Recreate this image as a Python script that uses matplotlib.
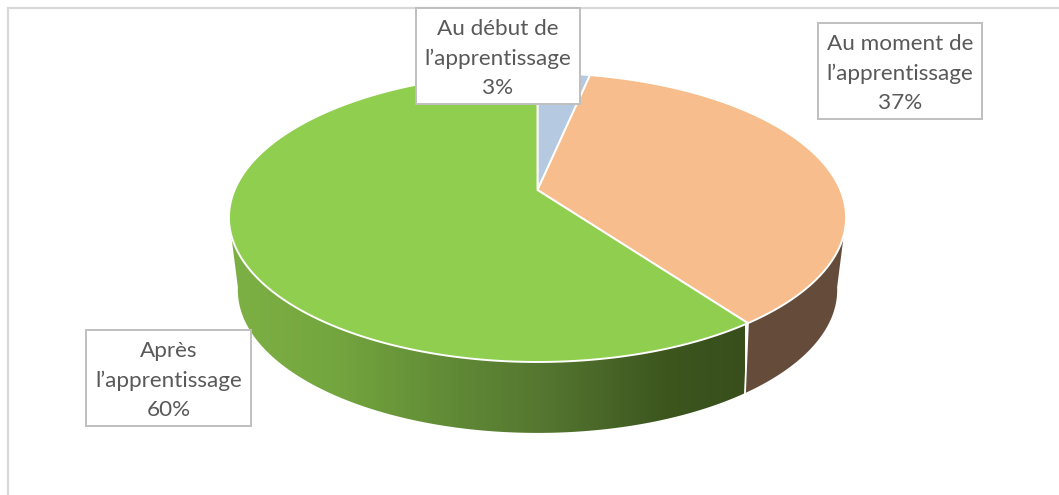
import numpy as np
import matplotlib
matplotlib.use("Agg")
import matplotlib.pyplot as plt
from matplotlib.patches import Polygon, Rectangle
from matplotlib.colors import LinearSegmentedColormap

categories = ["Au début de\nl’apprentissage", "Au moment de\nl’apprentissage", "Après\nl’apprentissage"]
values = [3.3, 36.7, 60]
top_colors = ["#b5c9e0", "#f7bd8c", "#90ce4f"]

W, H = 1059, 495
fig = plt.figure(figsize=(W / 100, H / 100), dpi=100)
ax = fig.add_axes([0, 0, 1, 1])
ax.set_xlim(0, W)
ax.set_ylim(H, 0)
ax.axis("off")

CX = 537.5


def project(theta, k, y0, b, c):
    """Perspective view of a unit circle; theta runs clockwise from the top."""
    u, v = np.sin(theta), np.cos(theta)
    d = 1 + c * v
    return np.column_stack([CX + k * u / d, (y0 + b * v) / d])


TOP = dict(k=302.9, y0=190.0, b=-103.1, c=0.1903)
LOW = dict(k=293.0, y0=260.0, b=-82.0, c=0.21)

fractions = np.cumsum([0] + values) / np.sum(values)
angles = 2 * np.pi * fractions

# frame
ax.add_patch(Rectangle((7.5, 8), W + 20, H + 20, fc="white", ec="#d9d9d9", lw=1.6, zorder=0))

# side walls
seam = angles[2]
right_limit = np.deg2rad(101)
left_limit = np.deg2rad(259)


def wall(t0, t1):
    t = np.linspace(t0, t1, 200)
    return np.vstack([project(t, **TOP), project(t[::-1], **LOW)])


ax.add_patch(Polygon(wall(right_limit, seam), fc="#654c3a", ec="none", zorder=1))
green_wall = Polygon(wall(seam, left_limit), fc="none", ec="none", zorder=2)
ax.add_patch(green_wall)
cmap = LinearSegmentedColormap.from_list(
    "wall",
    [(0.0, "#7db044"), (0.2, "#74a63f"), (0.45, "#5f8835"), (0.62, "#547530"),
     (0.85, "#3c561e"), (1.0, "#384f1c")],
)
img = ax.imshow(np.linspace(0, 1, 512)[None, :], cmap=cmap, vmin=0, vmax=1,
                extent=(229, 745, 440, 200), aspect="auto", zorder=2, interpolation="bilinear")
img.set_clip_path(green_wall)
ax.set_xlim(0, W)
ax.set_ylim(H, 0)

# seam between walls
ax.plot(*np.vstack([project(seam, **TOP), project(seam, **LOW)]).T, color="white", lw=1.3, zorder=3)

# top face
apex = np.array([[CX, 190.0]])
for i, col in enumerate(top_colors):
    t = np.linspace(angles[i], angles[i + 1], 300)
    pts = np.vstack([apex, project(t, **TOP)])
    ax.add_patch(Polygon(pts, closed=True, fc=col, ec="white", lw=1.4, joinstyle="round", zorder=4))

# data labels
boxes = [(416, 8, 164, 96), (817.5, 23, 164.5, 96), (86, 330, 165, 96)]
for cat, val, (x, y, w, h) in zip(categories, values, boxes):
    ax.add_patch(Rectangle((x, y), w, h, fc="white", ec="#bfbfbf", lw=1.4, zorder=5))
    ax.text(x + w / 2, y + h / 2 + 2.5, f"{cat}\n{val:.0f}%", ha="center", va="center",
            color="#595959", family="Lato", fontsize=16.2, linespacing=1.57, zorder=6)

fig.savefig("out.png", dpi=100)
